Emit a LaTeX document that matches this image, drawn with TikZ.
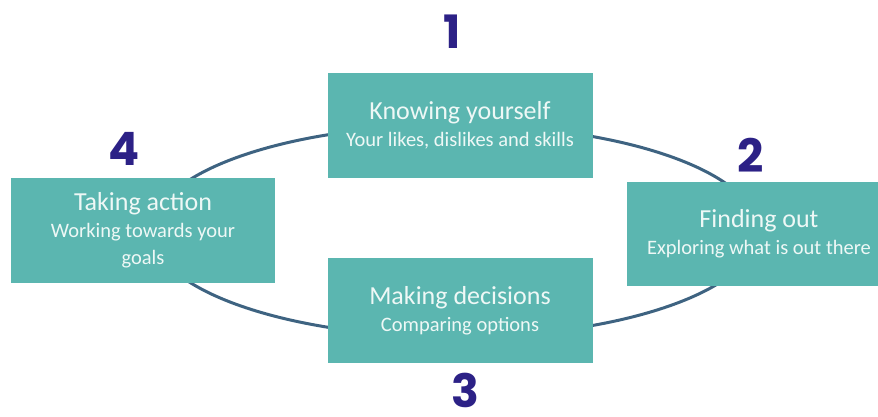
\documentclass[tikz,border=0pt]{standalone}
\usepackage{fontspec}
\setmainfont{Carlito}
\newfontfamily\numfont{Poppins}
\usetikzlibrary{shapes.geometric}
\definecolor{stageteal}{HTML}{5BB6B0}
\definecolor{ringblue}{HTML}{3E6381}
\definecolor{numblue}{HTML}{2C2186}
\definecolor{paletext}{HTML}{EEF8F6}
\newcommand{\stagetitle}[1]{{\fontsize{26}{29}\selectfont #1}}
\begin{document}
\begin{tikzpicture}[x=1pt,y=-1pt,
  stagebox/.style={fill=stageteal, text=paletext, minimum width=265pt,
    minimum height=105pt, inner sep=0pt, align=center,
    font=\fontsize{20.5}{27}\selectfont},
  stagenum/.style={text=numblue, inner sep=0pt,
    font=\numfont\bfseries\fontsize{46}{46}\selectfont}]
\useasboundingbox (0,0) rectangle (878,416);
\clip (0,0) rectangle (878,416);

% the cycle behind the boxes
\node[ellipse, draw=ringblue, line width=3pt, minimum width=606pt,
  minimum height=212pt, inner sep=0pt] (ring) at (455,231) {};

\node[stagebox] (know) at (460,125.5) {\stagetitle{Knowing yourself}\\Your likes, dislikes and skills};
\node[stagebox, minimum width=264pt, minimum height=104pt] (find) at (759,234) {\stagetitle{Finding out}\\Exploring what is out there};
\node[stagebox] (decide) at (460,310.5) {\stagetitle{Making decisions}\\Comparing options};
\node[stagebox, minimum width=264pt] (act) at (143,230.5) {\stagetitle{Taking action}\\Working towards your\\goals};

\node[stagenum] (n1) at (452,32) {1};
\node[stagenum] (n2) at (751,155) {2};
\node[stagenum] (n3) at (465,390) {3};
\node[stagenum] (n4) at (124,149) {4};

\end{tikzpicture}
\end{document}
